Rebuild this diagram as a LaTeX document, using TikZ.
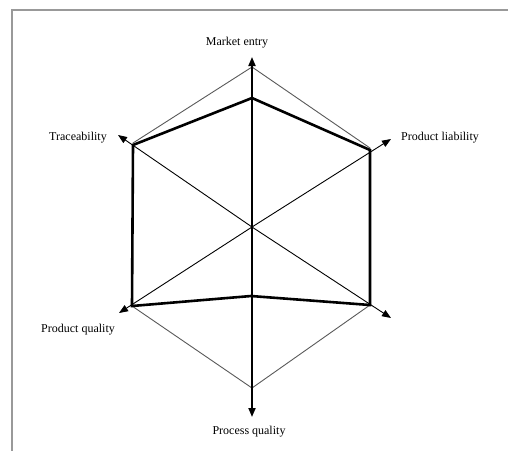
\documentclass[tikz,border=0pt]{standalone}
\usepackage{fontspec}
\setmainfont{Liberation Serif}
\usetikzlibrary{arrows.meta}
\begin{document}
\begin{tikzpicture}[x=1pt,y=-1pt,
  frame/.style={draw=black!40,line width=1.5pt},
  hexline/.style={draw=black!65,line width=0.9pt},
  axis/.style={draw=black,line width=1.8pt,-{Triangle[length=9pt,width=7pt]}},
  diag/.style={draw=black,line width=0.9pt,-{Triangle[length=9pt,width=7pt]}},
  profile/.style={draw=black,line width=2.6pt,line join=miter},
  lbl/.style={font=\fontsize{12}{14}\selectfont,inner sep=0pt}]
\useasboundingbox (0,0) rectangle (508,451);
% frame
\draw[frame] (508,10) -- (12,10) -- (12,451);
% coordinates
\coordinate (c) at (252,227);
\coordinate (tTop) at (252,57);
\coordinate (tBot) at (252,417);
\coordinate (tUL) at (118,135);
\coordinate (tUR) at (391,139);
\coordinate (tLL) at (119,313);
\coordinate (tLR) at (391,318);
\coordinate (oT) at (252,67);
\coordinate (oUL) at (133,143);
\coordinate (oUR) at (370,148);
\coordinate (oLR) at (370,305);
\coordinate (oB) at (252,388);
\coordinate (oLL) at (132,306);
\coordinate (pT) at (252,98);
\coordinate (pUL) at (133,145);
\coordinate (pUR) at (370,150);
\coordinate (pLR) at (370,305);
\coordinate (pB) at (251,296);
\coordinate (pLL) at (132,306);
% outer hexagon
\draw[hexline] (oT) -- (oUR) -- (oLR) -- (oB) -- (oLL) -- (oUL) -- cycle;
% axes
\draw[diag] (c) -- (tUL);
\draw[diag] (c) -- (tUR);
\draw[diag] (c) -- (tLL);
\draw[diag] (c) -- (tLR);
\draw[axis] (c) -- (tTop);
\draw[axis] (c) -- (tBot);
% profile
\draw[profile] (pT) -- (pUR) -- (pLR) -- (pB) -- (pLL) -- (pUL) -- cycle;
% labels
\node[lbl] (lME) at (237,43) {Market entry};
\node[lbl] (lTR) at (78,138) {Traceability};
\node[lbl] (lPL) at (440,138) {Product liability};
\node[lbl] (lPQ) at (78,330) {Product quality};
\node[lbl] (lPR) at (249,432) {Process quality};
\end{tikzpicture}
\end{document}
